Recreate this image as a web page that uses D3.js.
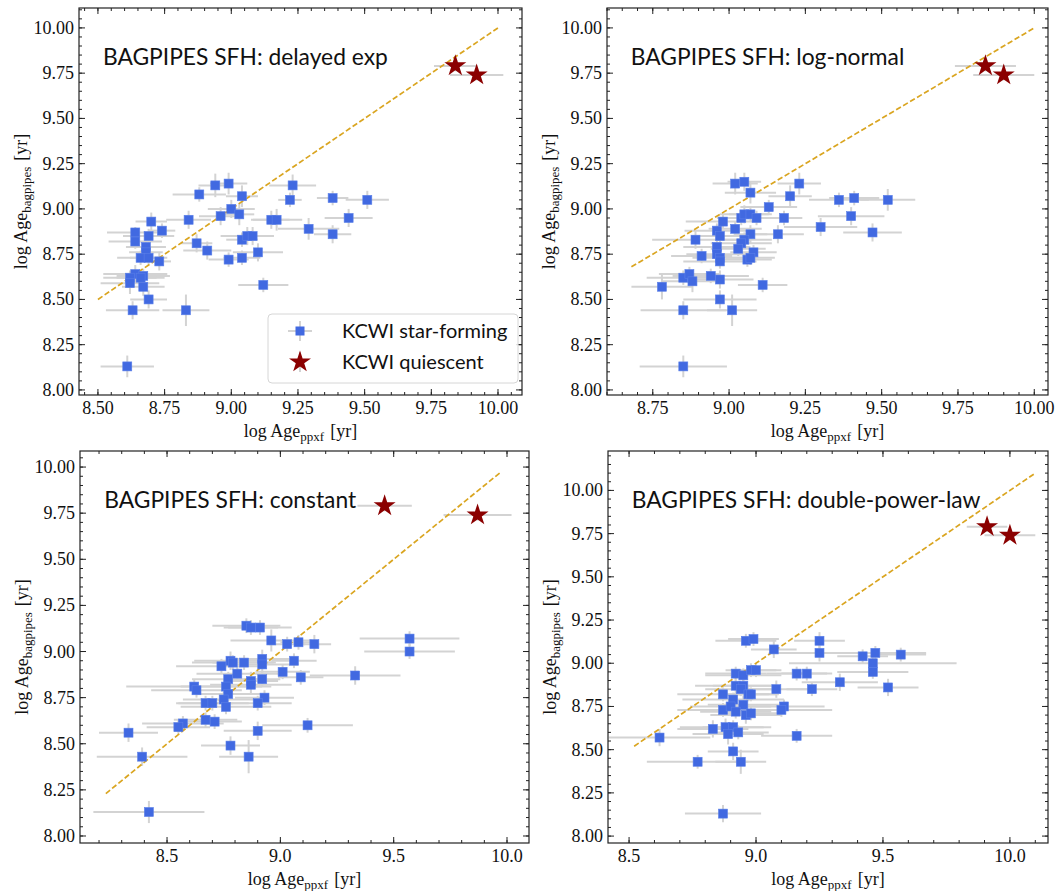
<!DOCTYPE html>
<html><head><meta charset="utf-8">
<script src="https://cdn.jsdelivr.net/npm/d3@7"></script>
<style>body{margin:0;background:#fff} svg{display:block}</style>
</head><body><svg id="c" width="1057" height="891"></svg>
<script>
// ---------- DATA: [log Age_ppxf, log Age_bagpipes, xerr, yerr] ----------
const delayedSF = [
 [8.94,9.13,0.063,0.065],[8.99,9.14,0.07,0.06],[8.88,9.08,0.10,0.04],[9.04,9.07,0.06,0.06],
 [9.23,9.13,0.088,0.06],[9.22,9.05,0.044,0.04],[9.38,9.06,0.059,0.04],[9.00,9.00,0.088,0.05],
 [8.96,8.96,0.081,0.05],[9.03,8.97,0.056,0.06],[8.84,8.94,0.084,0.05],[8.70,8.93,0.059,0.05],
 [9.15,8.94,0.069,0.05],[9.17,8.94,0.096,0.06],[8.64,8.87,0.106,0.03],[8.74,8.88,0.05,0.04],
 [8.69,8.85,0.096,0.04],[8.64,8.82,0.10,0.04],[9.29,8.89,0.115,0.06],[9.38,8.86,0.07,0.05],
 [8.87,8.81,0.059,0.05],[9.04,8.83,0.059,0.04],[9.06,8.85,0.10,0.05],[9.08,8.85,0.07,0.05],
 [8.68,8.79,0.075,0.04],[8.68,8.76,0.063,0.04],[8.66,8.73,0.088,0.04],[8.69,8.73,0.07,0.04],
 [8.73,8.71,0.044,0.05],[8.91,8.77,0.09,0.05],[9.10,8.76,0.094,0.05],[8.99,8.72,0.075,0.04],
 [9.04,8.73,0.069,0.04],[8.64,8.64,0.12,0.05],[8.67,8.63,0.10,0.04],[8.62,8.62,0.10,0.04],
 [8.62,8.59,0.11,0.06],[8.66,8.62,0.09,0.04],[8.67,8.57,0.08,0.05],[8.69,8.50,0.069,0.05],
 [8.63,8.44,0.10,0.05],[8.83,8.44,0.088,0.087],[9.12,8.58,0.094,0.04],[8.61,8.13,0.10,0.06],
 [9.51,9.05,0.081,0.05],[9.44,8.95,0.09,0.05]
];
const delayedQ = [[9.84,9.79,0.08,0.03],[9.92,9.74,0.10,0.03]];
const delayedLine = [8.50,10.00];

const lognormalSF = [
 [9.02,9.14,0.074,0.06],[9.05,9.15,0.055,0.05],[9.23,9.14,0.071,0.06],[9.07,9.09,0.084,0.06],
 [9.20,9.07,0.071,0.06],[9.36,9.05,0.098,0.04],[9.41,9.06,0.082,0.04],[9.13,9.01,0.093,0.04],
 [9.40,8.96,0.109,0.05],[9.18,8.95,0.06,0.04],[8.98,8.93,0.122,0.04],[9.04,8.95,0.08,0.04],
 [9.05,8.97,0.08,0.05],[9.07,8.97,0.07,0.04],[9.09,8.95,0.08,0.04],[9.30,8.90,0.12,0.05],
 [8.96,8.88,0.106,0.04],[9.02,8.89,0.087,0.04],[8.97,8.85,0.09,0.04],[9.07,8.86,0.055,0.05],
 [9.16,8.86,0.085,0.05],[8.89,8.83,0.142,0.05],[9.05,8.83,0.09,0.04],[9.04,8.81,0.10,0.04],
 [8.96,8.79,0.11,0.05],[8.96,8.75,0.10,0.04],[9.03,8.78,0.09,0.04],[9.08,8.76,0.076,0.04],
 [8.91,8.74,0.10,0.04],[8.97,8.73,0.09,0.04],[8.97,8.71,0.12,0.04],[9.06,8.72,0.08,0.04],
 [9.07,8.73,0.08,0.04],[8.85,8.62,0.12,0.04],[8.87,8.64,0.10,0.04],[8.88,8.60,0.10,0.06],
 [8.94,8.63,0.125,0.04],[8.97,8.61,0.11,0.05],[9.11,8.58,0.081,0.04],[8.78,8.57,0.10,0.07],
 [8.97,8.50,0.12,0.05],[8.85,8.44,0.14,0.05],[9.01,8.44,0.082,0.087],[8.85,8.13,0.143,0.06],
 [9.52,9.05,0.09,0.06],[9.47,8.87,0.096,0.05]
];
const lognormalQ = [[9.84,9.79,0.10,0.03],[9.90,9.74,0.10,0.03]];
const lognormalLine = [8.68,10.00];

const constantSF = [
 [8.85,9.14,0.15,0.04],[8.87,9.13,0.12,0.04],[8.91,9.13,0.14,0.04],[8.96,9.06,0.18,0.06],
 [9.03,9.04,0.08,0.04],[9.08,9.05,0.08,0.04],[9.15,9.04,0.074,0.05],[8.78,8.95,0.16,0.05],
 [8.79,8.94,0.18,0.04],[8.84,8.94,0.14,0.04],[8.92,8.96,0.12,0.05],[8.92,8.93,0.16,0.05],
 [8.74,8.92,0.20,0.04],[9.06,8.95,0.10,0.04],[9.01,8.89,0.12,0.04],[8.81,8.88,0.18,0.04],
 [8.77,8.85,0.16,0.04],[9.09,8.86,0.10,0.04],[8.87,8.84,0.12,0.05],[8.87,8.82,0.18,0.05],
 [8.92,8.85,0.08,0.04],[8.62,8.81,0.30,0.04],[8.63,8.79,0.20,0.04],[8.76,8.81,0.20,0.04],
 [8.77,8.77,0.14,0.04],[8.93,8.75,0.13,0.04],[8.90,8.72,0.15,0.04],[8.75,8.74,0.18,0.04],
 [8.67,8.72,0.12,0.04],[8.70,8.72,0.16,0.04],[8.76,8.70,0.20,0.04],[8.67,8.63,0.14,0.04],
 [8.71,8.62,0.12,0.04],[8.57,8.61,0.18,0.04],[8.55,8.59,0.14,0.04],[9.12,8.60,0.20,0.04],
 [8.90,8.57,0.15,0.05],[8.33,8.56,0.13,0.05],[8.78,8.49,0.13,0.05],[8.86,8.43,0.13,0.09],
 [8.39,8.43,0.20,0.05],[8.42,8.13,0.245,0.06],[9.57,9.07,0.22,0.04],[9.57,9.00,0.20,0.04],
 [9.33,8.87,0.20,0.05]
];
const constantQ = [[9.46,9.79,0.12,0.03],[9.87,9.74,0.15,0.03]];
const constantLine = [8.23,9.97];

const dplSF = [
 [8.96,9.13,0.12,0.04],[8.99,9.14,0.10,0.04],[9.07,9.08,0.09,0.05],[9.25,9.13,0.10,0.05],
 [9.25,9.06,0.20,0.05],[8.92,8.94,0.12,0.04],[8.95,8.93,0.15,0.04],[8.98,8.96,0.10,0.04],
 [9.00,8.96,0.10,0.04],[9.16,8.94,0.12,0.04],[9.20,8.94,0.10,0.04],[9.08,8.85,0.15,0.05],
 [9.22,8.85,0.10,0.04],[8.92,8.87,0.16,0.05],[8.95,8.87,0.12,0.04],[8.94,8.85,0.14,0.04],
 [8.87,8.82,0.18,0.04],[8.97,8.82,0.12,0.04],[8.98,8.82,0.10,0.04],[8.91,8.79,0.20,0.04],
 [8.95,8.76,0.14,0.05],[8.87,8.73,0.18,0.04],[8.90,8.75,0.16,0.04],[8.92,8.72,0.14,0.04],
 [8.96,8.70,0.14,0.05],[8.98,8.71,0.12,0.04],[9.11,8.75,0.16,0.04],[9.10,8.73,0.20,0.04],
 [8.83,8.62,0.14,0.05],[8.88,8.63,0.18,0.05],[8.91,8.63,0.12,0.04],[8.89,8.59,0.14,0.06],
 [8.93,8.60,0.12,0.04],[9.16,8.58,0.14,0.04],[8.62,8.57,0.20,0.05],[8.91,8.49,0.10,0.05],
 [8.77,8.43,0.20,0.04],[8.94,8.43,0.10,0.07],[8.87,8.13,0.15,0.05],[9.42,9.04,0.10,0.04],
 [9.47,9.06,0.20,0.04],[9.57,9.05,0.10,0.04],[9.46,9.00,0.33,0.04],[9.46,8.95,0.14,0.04],
 [9.33,8.89,0.15,0.05],[9.52,8.86,0.12,0.05]
];
const dplQ = [[9.91,9.79,0.08,0.03],[10.00,9.74,0.10,0.03]];
const dplLine = [8.52,10.10];

const titles = ["BAGPIPES SFH: delayed exp","BAGPIPES SFH: log-normal","BAGPIPES SFH: constant","BAGPIPES SFH: double-power-law"];
const xTicksDelayed = [8.50,8.75,9.00,9.25,9.50,9.75,10.00];
const xTicksLognormal = [8.75,9.00,9.25,9.50,9.75,10.00];
const xTicksConstant = [8.5,9.0,9.5,10.0];
const xTicksDpl = [8.5,9.0,9.5,10.0];
const yTicks = [8.00,8.25,8.50,8.75,9.00,9.25,9.50,9.75,10.00];
const legendLabels = ["KCWI star-forming","KCWI quiescent"];

// ---------- LAYOUT ----------
const panels = [
 {title:titles[0], sf:delayedSF, q:delayedQ, line:delayedLine, box:[79,8,522,395], xlim:[8.429,10.090], ylim:[7.972,10.110], xt:xTicksDelayed, xfmt:".2f", xminor:0.05, legend:true},
 {title:titles[1], sf:lognormalSF, q:lognormalQ, line:lognormalLine, box:[607,8,1048,395], xlim:[8.600,10.045], ylim:[7.972,10.110], xt:xTicksLognormal, xfmt:".2f", xminor:0.05},
 {title:titles[2], sf:constantSF, q:constantQ, line:constantLine, box:[80,451,529,843], xlim:[8.116,10.097], ylim:[7.962,10.087], xt:xTicksConstant, xfmt:".1f", xminor:0.1},
 {title:titles[3], sf:dplSF, q:dplQ, line:dplLine, box:[608,451,1048,843], xlim:[8.417,10.150], ylim:[7.960,10.228], xt:xTicksDpl, xfmt:".1f", xminor:0.1}
];

const svg = d3.select('#c');
svg.append('rect').attr('width',1057).attr('height',891).attr('fill','#fff');
const SERIF = "'Liberation Serif','DejaVu Serif',serif";
const SANS = "Lato,'Open Sans','DejaVu Sans',sans-serif";
const star = d3.symbol(d3.symbolStar, 150);

function minorVals(lim, step){
  const out=[]; const a=Math.ceil(lim[0]/step-1e-6), b=Math.floor(lim[1]/step+1e-6);
  for(let i=a;i<=b;i++) out.push(+(i*step).toFixed(4));
  return out;
}

function drawErr(g, data, x, y){
  data.forEach(d=>{
    g.append('line').attr('x1',x(d[0]-d[2])).attr('x2',x(d[0]+d[2])).attr('y1',y(d[1])).attr('y2',y(d[1]));
    g.append('line').attr('x1',x(d[0])).attr('x2',x(d[0])).attr('y1',y(d[1]-d[3])).attr('y2',y(d[1]+d[3]));
  });
}

panels.forEach((p,idx)=>{
  const [L,T,R,B] = p.box;
  const x = d3.scaleLinear().domain(p.xlim).range([L,R]);
  const y = d3.scaleLinear().domain(p.ylim).range([B,T]);
  const g = svg.append('g');
  const cid='clip'+idx;
  svg.append('clipPath').attr('id',cid).append('rect').attr('x',L).attr('y',T).attr('width',R-L).attr('height',B-T);
  const gd = g.append('g').attr('clip-path',`url(#${cid})`);
  const eb = gd.append('g').attr('stroke','#d3d3d3').attr('stroke-width',2);
  drawErr(eb, p.sf, x, y);
  drawErr(eb, p.q, x, y);
  gd.append('line').attr('x1',x(p.line[0])).attr('y1',y(p.line[0])).attr('x2',x(p.line[1])).attr('y2',y(p.line[1]))
    .attr('stroke','#DAA520').attr('stroke-width',1.7).attr('stroke-dasharray','5.5,2.6');
  gd.selectAll('rect.sq').data(p.sf).join('rect').attr('class','sq')
    .attr('x',d=>x(d[0])-4.5).attr('y',d=>y(d[1])-4.5).attr('width',9).attr('height',9)
    .attr('fill','#4169E1').attr('stroke','#5a7fe8').attr('stroke-width',0.6);
  gd.selectAll('path.st').data(p.q).join('path').attr('class','st')
    .attr('d',star).attr('transform',d=>`translate(${x(d[0])},${y(d[1])})`).attr('fill','#8B0000');

  // ticks
  const tk = g.append('g').attr('stroke','#222').attr('stroke-width',1);
  const xmaj = p.xt, ymaj = yTicks;
  const xmin = minorVals(p.xlim, p.xminor), ymin = minorVals(p.ylim, 0.05);
  xmin.forEach(v=>{ const X=x(v); tk.append('line').attr('x1',X).attr('x2',X).attr('y1',B).attr('y2',B-3);
    tk.append('line').attr('x1',X).attr('x2',X).attr('y1',T).attr('y2',T+3);});
  ymin.forEach(v=>{ const Y=y(v); tk.append('line').attr('y1',Y).attr('y2',Y).attr('x1',L).attr('x2',L+3);
    tk.append('line').attr('y1',Y).attr('y2',Y).attr('x1',R).attr('x2',R-3);});
  xmaj.forEach(v=>{ const X=x(v); tk.append('line').attr('x1',X).attr('x2',X).attr('y1',B).attr('y2',B-6);
    tk.append('line').attr('x1',X).attr('x2',X).attr('y1',T).attr('y2',T+6);});
  ymaj.forEach(v=>{ const Y=y(v); tk.append('line').attr('y1',Y).attr('y2',Y).attr('x1',L).attr('x2',L+6);
    tk.append('line').attr('y1',Y).attr('y2',Y).attr('x1',R).attr('x2',R-6);});
  g.append('rect').attr('x',L).attr('y',T).attr('width',R-L).attr('height',B-T)
    .attr('fill','none').attr('stroke','#222').attr('stroke-width',1.2);

  const fx = d3.format(p.xfmt), fy = d3.format('.2f');
  g.selectAll('text.xl').data(xmaj).join('text').attr('class','xl')
    .attr('x',d=>x(d)).attr('y',B+19).attr('text-anchor','middle')
    .attr('font-family',SERIF).attr('font-size',18).attr('fill','#111').text(d=>fx(d));
  g.selectAll('text.yl').data(ymaj).join('text').attr('class','yl')
    .attr('x',L-5).attr('y',d=>y(d)+6).attr('text-anchor','end')
    .attr('font-family',SERIF).attr('font-size',18).attr('fill','#111').text(d=>fy(d));

  // axis labels
  const xlab = g.append('text').attr('x',(L+R)/2).attr('y',B+42).attr('text-anchor','middle')
    .attr('font-family',SERIF).attr('font-size',18).attr('fill','#111');
  xlab.append('tspan').text('log Age');
  xlab.append('tspan').attr('font-size',13).attr('dy',4).text('ppxf');
  xlab.append('tspan').attr('dy',-4).attr('dx',6).text('[yr]');
  const ylab = g.append('text').attr('transform',`translate(${L-52},${(T+B)/2}) rotate(-90)`).attr('text-anchor','middle')
    .attr('font-family',SERIF).attr('font-size',18).attr('fill','#111');
  ylab.append('tspan').text('log Age');
  ylab.append('tspan').attr('font-size',13).attr('dy',4).text('bagpipes');
  ylab.append('tspan').attr('dy',-4).attr('dx',6).text('[yr]');

  // title
  g.append('text').attr('x',L+0.054*(R-L)).attr('y',T+57).attr('font-family',SANS).attr('font-size',22.8)
    .attr('fill','#111').text(p.title);

  if(p.legend){
    const lg = g.append('g');
    lg.append('rect').attr('x',268).attr('y',314).attr('width',250).attr('height',69).attr('rx',4)
      .attr('fill','#fff').attr('fill-opacity',0.85).attr('stroke','#d6d6d6').attr('stroke-width',1);
    const lx=300, ly=[331,362];
    lg.append('line').attr('x1',lx-12).attr('x2',lx+12).attr('y1',ly[0]).attr('y2',ly[0]).attr('stroke','#d3d3d3').attr('stroke-width',2);
    lg.append('line').attr('x1',lx).attr('x2',lx).attr('y1',ly[0]-10).attr('y2',ly[0]+10).attr('stroke','#d3d3d3').attr('stroke-width',2);
    lg.append('rect').attr('x',lx-4.5).attr('y',ly[0]-4.5).attr('width',9).attr('height',9).attr('fill','#4169E1');
    lg.append('line').attr('x1',lx).attr('x2',lx).attr('y1',ly[1]-10).attr('y2',ly[1]+10).attr('stroke','#d3d3d3').attr('stroke-width',2);
    lg.append('path').attr('d',star).attr('transform',`translate(${lx},${ly[1]})`).attr('fill','#8B0000');
    lg.selectAll('text').data(legendLabels).join('text').attr('x',342).attr('y',(d,i)=>ly[i]+7)
      .attr('font-family',SANS).attr('font-size',20).attr('fill','#111').text(d=>d);
  }
});
</script></body></html>
